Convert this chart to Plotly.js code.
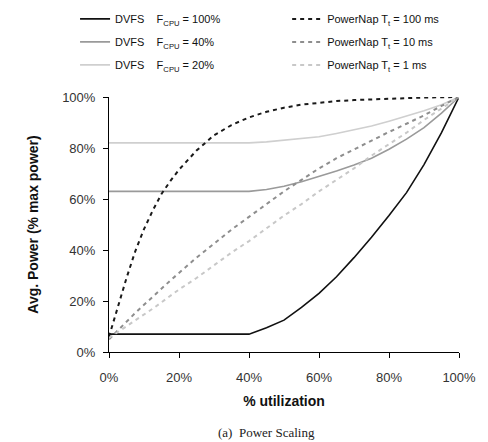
<!DOCTYPE html>
<html>
<head>
<meta charset="utf-8">
<script src="https://cdn.plot.ly/plotly-3.0.1.min.js"></script>
<style>html,body{margin:0;padding:0;background:#fff;}#chart{width:488px;height:442px;}</style>
</head>
<body>
<div id="chart"></div>
<script>
// % utilization
const util = [0, 2.5, 5, 7.5, 10, 12.5, 15, 17.5, 20, 25, 30, 35, 40, 45, 50, 55, 60, 65, 70, 75, 80, 85, 90, 95, 100];
// Avg. power (% max power)
const dvfs100 = [7, 7, 7, 7, 7, 7, 7, 7, 7, 7, 7, 7, 7, 9.5, 12.5, 17.5, 23, 29.5, 37, 45, 53.5, 62.5, 73.5, 86, 100];
const dvfs40  = [63, 63, 63, 63, 63, 63, 63, 63, 63, 63, 63, 63, 63, 63.7, 65, 66.8, 68.8, 71, 73.3, 76, 79.5, 83.5, 88, 93.7, 100];
const dvfs20  = [82, 82, 82, 82, 82, 82, 82, 82, 82, 82, 82, 82, 82, 82.4, 83, 83.7, 84.4, 85.7, 87.1, 88.6, 90.5, 92.5, 94.6, 97, 100];
const pn100   = [6, 18, 29, 39.5, 48.2, 55.5, 62, 67, 71.5, 79, 85, 89, 92, 94.2, 95.8, 97, 97.8, 98.4, 98.8, 99.1, 99.4, 99.6, 99.8, 99.9, 100];
const pn10    = [5, 8.5, 12, 15.3, 18.5, 21.8, 25, 28, 31, 37, 42.5, 48, 53, 58, 63, 67.5, 72, 76, 79.5, 83, 86.3, 89.5, 92.8, 96.5, 100];
const pn1     = [5.5, 7.8, 10, 12.3, 14.5, 17, 19.5, 22, 24.5, 29, 34, 39, 43.5, 48.5, 53.5, 58, 63, 67.5, 72, 77, 81.5, 86, 91, 95.5, 100];

const names = [
  'DVFS&nbsp;&nbsp;&nbsp;&nbsp;F<sub>CPU</sub> = 100%',
  'DVFS&nbsp;&nbsp;&nbsp;&nbsp;F<sub>CPU</sub> = 40%',
  'DVFS&nbsp;&nbsp;&nbsp;&nbsp;F<sub>CPU</sub> = 20%',
  'PowerNap T<sub>t</sub> = 100 ms',
  'PowerNap T<sub>t</sub> = 10 ms',
  'PowerNap T<sub>t</sub> = 1 ms'
];
const tickVals = [0, 20, 40, 60, 80, 100];
const tickLabels = ['0%', '20%', '40%', '60%', '80%', '100%'];

const FONT = 'Liberation Sans, Arial, sans-serif';
const dash = '4px,4px';

const traces = [
  {y: dvfs100, name: names[0], line: {color: '#111111', width: 1.6}, legend: 'legend', legendgroup: 'a'},
  {y: dvfs40,  name: names[1], line: {color: '#9a9a9a', width: 1.6}, legend: 'legend', legendgroup: 'b'},
  {y: dvfs20,  name: names[2], line: {color: '#cfcfcf', width: 1.6}, legend: 'legend', legendgroup: 'c'},
  {y: pn100,   name: names[3], line: {color: '#1a1a1a', width: 2, dash: dash}, legend: 'legend2', legendgroup: 'd'},
  {y: pn10,    name: names[4], line: {color: '#8e8e8e', width: 2, dash: dash}, legend: 'legend2', legendgroup: 'e'},
  {y: pn1,     name: names[5], line: {color: '#c8c8c8', width: 2, dash: dash}, legend: 'legend2', legendgroup: 'f'}
].map(t => Object.assign({x: util, type: 'scatter', mode: 'lines', hoverinfo: 'skip'}, t));

const legendCommon = {
  yref: 'container', y: 0.990, yanchor: 'top', xanchor: 'left',
  bgcolor: 'rgba(0,0,0,0)', borderwidth: 0,
  font: {family: FONT, size: 11, color: '#111'},
  traceorder: 'grouped', tracegroupgap: 4
};

const layout = {
  width: 488, height: 442,
  margin: {l: 109, r: 29, t: 97, b: 90},
  paper_bgcolor: '#fff', plot_bgcolor: '#fff',
  font: {family: FONT, color: '#222'},
  showlegend: true,
  legend: Object.assign({x: -0.097}, legendCommon),
  legend2: Object.assign({x: 0.509}, legendCommon),
  xaxis: {
    range: [0, 100], tickmode: 'array', tickvals: tickVals, ticktext: tickLabels,
    showline: true, linecolor: '#000', linewidth: 1,
    ticks: 'outside', ticklen: 5, tickcolor: '#000', tickwidth: 1,
    ticklabelstandoff: 8,
    showgrid: false, zeroline: false,
    tickfont: {family: FONT, size: 13, color: '#333'},
    title: {text: '<b>% utilization</b>', font: {family: FONT, size: 14, color: '#111'}, standoff: 12},
    automargin: false, fixedrange: true
  },
  yaxis: {
    range: [0, 100], tickmode: 'array', tickvals: tickVals, ticktext: tickLabels,
    showline: true, linecolor: '#000', linewidth: 1,
    ticks: 'outside', ticklen: 5, tickcolor: '#000', tickwidth: 1,
    ticklabelstandoff: 5,
    showgrid: false, zeroline: false,
    tickfont: {family: FONT, size: 13, color: '#333'},
    title: {text: '<b>Avg. Power (% max power)</b>', font: {family: FONT, size: 14, color: '#111'}, standoff: 20},
    automargin: false, fixedrange: true
  },
  annotations: [{
    text: '(a)&nbsp;&nbsp;Power Scaling', xref: 'paper', yref: 'paper',
    x: 0.451, y: -0.314, xanchor: 'center', yanchor: 'middle', showarrow: false,
    font: {family: 'Liberation Serif, Times New Roman, serif', size: 13, color: '#222'}
  }]
};

Plotly.newPlot('chart', traces, layout, {staticPlot: true, displayModeBar: false});
</script>
</body>
</html>
